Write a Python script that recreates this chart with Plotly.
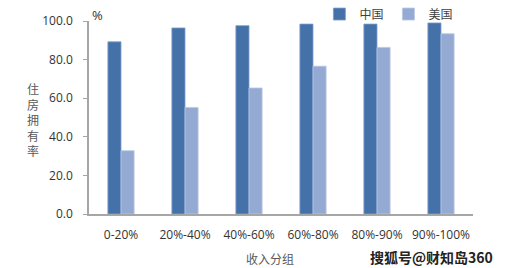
import plotly.graph_objects as go

categories = ["0-20%", "20%-40%", "40%-60%", "60%-80%", "80%-90%", "90%-100%"]
china = [89.2, 96.4, 97.6, 98.4, 98.4, 99.0]
usa = [32.8, 55.2, 65.3, 76.6, 86.3, 93.4]
series_names = ["中国", "美国"]
tick_vals = [0, 20, 40, 60, 80, 100]
tick_text = ["0.0", "20.0", "40.0", "60.0", "80.0", "100.0"]

fig = go.Figure()
fig.add_trace(go.Bar(x=categories, y=china, name=series_names[0],
                     marker=dict(color="#4471a7", line=dict(color="#7f9fcc", width=0.8))))
fig.add_trace(go.Bar(x=categories, y=usa, name=series_names[1],
                     marker=dict(color="#95aad3", line=dict(color="#b9c8e4", width=0.8))))

fig.update_layout(
    width=509, height=268,
    margin=dict(l=89, r=36, t=21, b=54, autoexpand=False),
    paper_bgcolor="white", plot_bgcolor="white",
    barmode="group", bargap=0.59, bargroupgap=0,
    font=dict(family="Open Sans, DejaVu Sans", color="#404040"),
    showlegend=True,
    legend=dict(orientation="h", x=0.6, xanchor="left", y=1.036, yanchor="middle",
                font=dict(family="Noto Sans CJK SC", size=12, color="#404040"),
                traceorder="normal", tracegroupgap=0,
                bgcolor="rgba(0,0,0,0)"),
)
fig.update_xaxes(
    showline=True, linecolor="#a6a6a6", linewidth=1.5,
    ticks="", showgrid=False,
    tickfont=dict(size=12, color="#333333"),
    ticklabelstandoff=9,
)
fig.update_yaxes(
    range=[0, 100], tickvals=tick_vals, ticktext=tick_text,
    showline=True, linecolor="#a6a6a6", linewidth=1.5,
    ticks="outside", ticklen=4, tickcolor="#a6a6a6",
    showgrid=False, zeroline=False,
    tickfont=dict(size=12, color="#333333"),
    ticklabelstandoff=8,
)

fig.add_annotation(text="%", xref="paper", yref="paper", x=0.023, y=1.03,
                   xanchor="center", yanchor="middle", showarrow=False,
                   font=dict(size=13, color="#333333"))
fig.add_annotation(text="住<br>房<br>拥<br>有<br>率", xref="paper", yref="paper",
                   x=-0.146, y=0.49, xanchor="center", yanchor="middle",
                   showarrow=False,
                   font=dict(family="Noto Sans CJK SC", size=12, color="#595959"))
fig.add_annotation(text="收入分组", xref="paper", yref="paper",
                   x=0.471, y=-0.232, xanchor="center", yanchor="middle",
                   showarrow=False,
                   font=dict(family="Noto Sans CJK SC", size=12, color="#595959"))
fig.add_annotation(text="<b>搜狐号@财知岛360</b>", xref="paper", yref="paper",
                   x=1.057, y=-0.222, xanchor="right", yanchor="middle",
                   showarrow=False,
                   font=dict(family="Noto Sans CJK SC", size=14, color="#222222"))

fig.write_html("out.html")
